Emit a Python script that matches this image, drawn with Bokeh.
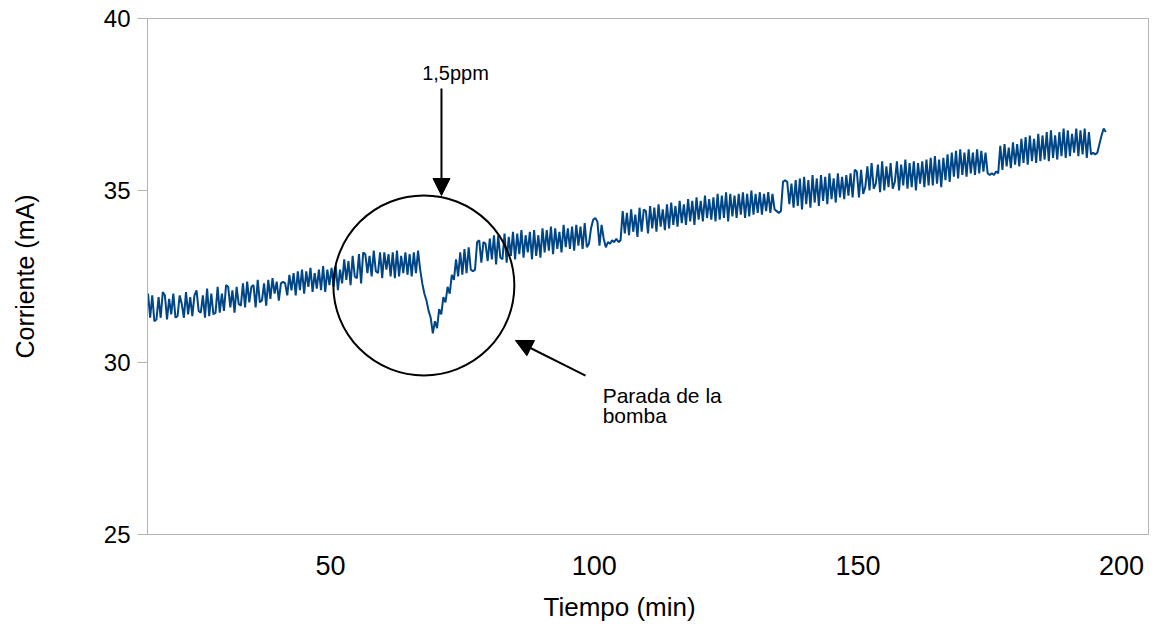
import numpy as np
from bokeh.plotting import figure
from bokeh.models import Range1d, FixedTicker, Arrow, NormalHead, Label, Title
from bokeh.embed import file_html
from bokeh.resources import INLINE

# ---- data ----
t_start = 15.4      # min, first sample
t_step = 0.4        # min between samples

corriente = [
    32.0, 31.3, 31.95, 31.2, 31.25, 31.9, 31.3, 32.05, 31.95, 31.25,     # 15.4
    31.85, 31.4, 32.0, 31.3, 31.35, 31.95, 31.7, 31.3, 32.05, 31.4,      # 19.4
    31.9, 31.35, 31.95, 32.1, 31.5, 31.45, 31.95, 31.3, 32.15, 31.35,    # 23.4
    32.0, 31.4, 31.45, 32.2, 31.45, 32.0, 31.5, 32.25, 32.2, 31.6,       # 27.4
    32.1, 31.45, 32.2, 31.7, 31.65, 32.3, 31.6, 32.35, 31.75, 32.2,      # 31.4
    32.25, 31.6, 32.4, 31.75, 31.8, 32.3, 31.65, 32.4, 31.85, 32.45,     # 35.4
    32.0, 32.35, 31.8, 32.3, 32.35, 32.3, 31.95, 32.55, 32.1, 32.6,      # 39.4
    31.95, 32.65, 32.1, 32.7, 32.0, 32.65, 32.2, 32.75, 32.05, 32.6,     # 43.4
    32.15, 32.7, 32.1, 32.8, 32.05, 32.7, 32.25, 32.75, 32.2, 32.8,      # 47.4
    32.1, 32.7, 32.3, 33.0, 32.4, 32.95, 32.25, 33.1, 32.5, 32.45,       # 51.4
    33.15, 32.3, 33.2, 33.15, 32.6, 33.1, 32.5, 33.25, 32.65, 32.6,      # 55.4
    33.2, 32.45, 33.2, 32.7, 33.15, 32.5, 33.2, 32.45, 33.25, 32.5,      # 59.4
    33.1, 32.6, 33.2, 32.55, 33.15, 32.5, 33.2, 32.6, 33.25, 32.7,       # 63.4
    32.3, 32.0, 31.8, 31.5, 31.3, 30.85, 31.2, 31.0, 31.55, 31.4,        # 67.4 dip
    31.9, 31.75, 32.2, 32.0, 32.55, 32.4, 33.0, 32.5, 33.2, 32.55,       # 71.4
    33.3, 32.6, 33.35, 32.7, 32.65, 32.7, 33.5, 33.55, 32.9, 33.5,       # 75.4
    33.45, 32.95, 33.6, 33.0, 33.7, 32.85, 33.7, 33.05, 33.0, 33.75,     # 79.4
    32.9, 33.65, 33.1, 33.8, 33.0, 33.75, 33.15, 33.85, 33.05, 33.7,     # 83.4
    33.2, 33.8, 33.0, 33.85, 33.1, 33.7, 33.05, 33.9, 33.2, 33.85,       # 87.4
    33.25, 33.95, 33.15, 33.9, 33.3, 33.8, 33.2, 34.0, 33.35, 33.9,      # 91.4
    33.3, 33.95, 33.25, 34.0, 33.4, 33.95, 33.3, 34.05, 33.35, 33.45,    # 95.4
    33.9, 34.15, 34.2, 34.1, 33.4, 34.0, 33.6, 33.35, 33.5, 33.45,       # 99.4
    33.55, 33.5, 33.6, 33.5, 33.55, 34.4, 33.75, 34.35, 33.7, 34.45,     # 103.4
    33.8, 34.3, 33.65, 34.5, 33.8, 34.45, 34.4, 33.75, 34.55, 33.9,      # 107.4
    34.5, 33.8, 34.6, 33.95, 34.45, 33.85, 34.6, 33.9, 34.65, 34.0,      # 111.4
    34.55, 33.95, 34.7, 34.05, 34.6, 34.0, 34.75, 34.1, 34.7, 34.0,      # 115.4
    34.8, 34.15, 34.7, 34.1, 34.85, 34.2, 34.75, 34.15, 34.8, 34.1,      # 119.4
    34.9, 34.15, 34.85, 34.2, 34.95, 34.1, 34.9, 34.25, 34.85, 34.2,     # 123.4
    34.9, 34.3, 34.95, 34.2, 34.9, 34.25, 35.0, 34.3, 34.9, 34.35,       # 127.4
    34.95, 34.3, 34.9, 34.4, 34.95, 34.35, 34.9, 34.45, 34.4, 34.35,     # 131.4
    34.4, 35.25, 35.3, 35.25, 34.6, 35.2, 34.5, 35.3, 34.55, 35.35,      # 135.4
    34.45, 35.4, 34.6, 35.3, 34.5, 35.45, 34.65, 35.35, 34.55, 35.45,    # 139.4
    34.7, 35.4, 34.6, 35.5, 34.75, 35.35, 34.65, 35.5, 34.8, 35.4,       # 143.4
    34.75, 35.45, 34.85, 35.5, 34.8, 35.6, 35.55, 34.8, 35.6, 34.9,      # 147.4
    35.1, 35.7, 35.0, 35.8, 35.05, 35.2, 35.75, 34.95, 35.85, 35.0,      # 151.4
    35.7, 35.1, 35.8, 35.05, 35.25, 35.85, 35.0, 35.75, 35.15, 35.9,     # 155.4
    35.05, 35.8, 35.1, 35.85, 35.0, 35.8, 35.2, 35.85, 35.1, 35.9,       # 159.4
    35.15, 35.95, 35.15, 36.0, 35.2, 35.9, 35.1, 35.95, 35.3, 36.05,     # 163.4
    35.25, 36.1, 35.4, 36.15, 35.35, 36.2, 35.45, 36.1, 35.4, 36.2,      # 167.4
    35.5, 36.1, 35.45, 36.2, 35.5, 36.15, 35.55, 36.1, 35.5, 35.45,      # 171.4
    35.5, 35.45, 35.55, 35.5, 36.3, 35.6, 36.35, 35.7, 36.25, 35.65,     # 175.4
    36.4, 35.75, 36.35, 35.7, 36.5, 35.8, 36.55, 35.75, 36.6, 35.85,     # 179.4
    36.5, 35.8, 36.65, 35.85, 36.6, 35.9, 36.7, 35.85, 36.75, 35.95,     # 183.4
    36.6, 35.9, 36.7, 36.0, 36.8, 35.95, 36.75, 36.0, 36.65, 36.1,       # 187.4
    36.8, 36.0, 36.75, 36.05, 36.8, 35.95, 36.7, 36.05, 36.1, 36.05,     # 191.4
    36.1, 36.35, 36.6, 36.8, 36.7,                                       # 195.4
]
tiempo = t_start + t_step * np.arange(len(corriente))

x_ticks = [50, 100, 150, 200]
y_ticks = [25, 30, 35, 40]
x_title = "Tiempo (min)"
y_title = "Corriente (mA)"
note_conc = "1,5ppm"
note_pump = ["Parada de la", "bomba"]

FONT = "Liberation Sans"
GRAY = "#b3b3b3"
BLUE = "#004586"

p = figure(width=1159, height=634, output_backend="svg", toolbar_location=None,
           x_range=Range1d(15.3, 205.1), y_range=Range1d(25, 40),
           min_border_left=147, min_border_right=11, min_border_top=18,
           min_border_bottom=100)
p.background_fill_color = "white"
p.border_fill_color = "white"
p.outline_line_color = GRAY
p.outline_line_width = 1
p.xgrid.visible = False
p.ygrid.visible = False

# axes
p.xaxis.ticker = FixedTicker(ticks=x_ticks)
p.xaxis.axis_line_color = GRAY
p.xaxis.major_tick_line_color = None
p.xaxis.minor_tick_line_color = None
p.xaxis.major_tick_out = 0
p.xaxis.major_label_standoff = 21
p.xaxis.major_label_text_font = FONT
p.xaxis.major_label_text_font_size = "27px"
p.xaxis.major_label_text_color = "black"

p.yaxis.ticker = FixedTicker(ticks=y_ticks)
p.yaxis.axis_line_color = GRAY
p.yaxis.major_tick_line_color = GRAY
p.yaxis.minor_tick_line_color = None
p.yaxis.major_tick_out = 10
p.yaxis.major_tick_in = 0
p.yaxis.major_label_standoff = 7
p.yaxis.major_label_text_font = FONT
p.yaxis.major_label_text_font_size = "24px"
p.yaxis.major_label_text_color = "black"
p.yaxis.axis_label = y_title
p.yaxis.axis_label_standoff = 62
p.yaxis.axis_label_text_font = FONT
p.yaxis.axis_label_text_font_size = "25px"
p.yaxis.axis_label_text_font_style = "normal"
p.yaxis.axis_label_text_color = "black"

# x axis title (left-aligned offset to match the reference position)
p.add_layout(Title(text=x_title, align="left", offset=396, standoff=24,
                   text_font=FONT, text_font_size="26px", text_font_style="normal",
                   text_color="black"), "below")

# data line
p.line(tiempo, corriente, line_color=BLUE, line_width=2)

# circle around the dip
p.ellipse(x=[67.7], y=[32.24], width=181, height=180, width_units="screen",
          height_units="screen", fill_color=None, line_color="black", line_width=2)

# arrows
p.add_layout(Arrow(x_start=71.04, y_start=37.965, x_end=71.04, y_end=34.855,
                   line_color="black", line_width=2,
                   end=NormalHead(size=17, fill_color="black", line_color="black")))
p.add_layout(Arrow(x_start=98.35, y_start=29.62, x_end=85.07, y_end=30.64,
                   line_color="black", line_width=2,
                   end=NormalHead(size=17, fill_color="black", line_color="black")))

# notes
p.add_layout(Label(x=73.7, y=38.43, text=note_conc, text_align="center",
                   text_baseline="middle", text_font=FONT, text_font_size="20px",
                   text_color="black"))
p.add_layout(Label(x=101.6, y=29.04, text=note_pump[0], text_align="left",
                   text_baseline="middle", text_font=FONT, text_font_size="21px",
                   text_color="black"))
p.add_layout(Label(x=101.6, y=28.46, text=note_pump[1], text_align="left",
                   text_baseline="middle", text_font=FONT, text_font_size="21px",
                   text_color="black"))

open("out.html", "w").write(file_html(p, INLINE))
